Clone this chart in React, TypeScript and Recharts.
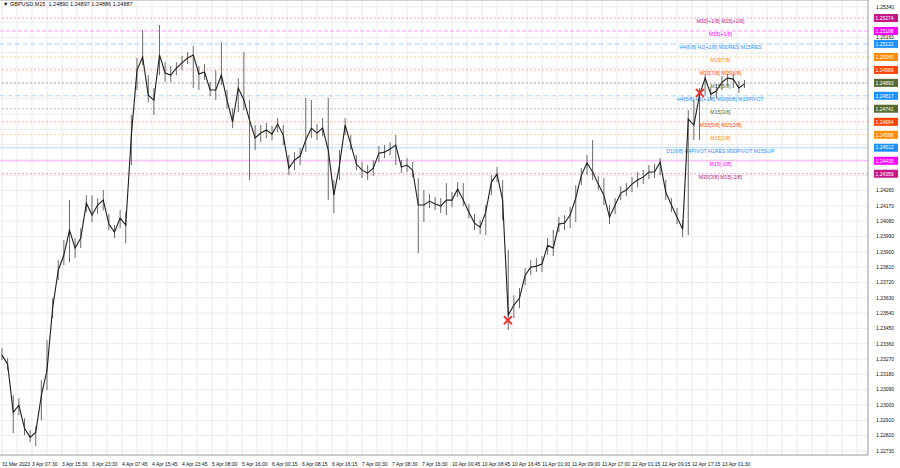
import { ComposedChart, Line, ErrorBar, XAxis, YAxis, CartesianGrid, ReferenceLine, ReferenceDot } from 'recharts';

// GBPUSD M15, one sample every 1.5 hours (close + high/low of the bucket)
const STEP = 1.5;

const closes = [
  1.23293, 1.23240, 1.22957, 1.22999, 1.22863, 1.22810, 1.22840, 1.23057, 1.23204, 1.23569,
  1.23792, 1.23881, 1.24028, 1.23922, 1.23981, 1.24186, 1.24116, 1.24175, 1.24204, 1.24063,
  1.24016, 1.24098, 1.24057, 1.24586, 1.24968, 1.25045, 1.24821, 1.24792, 1.25057, 1.24951,
  1.24939, 1.24980, 1.25010, 1.25039, 1.25057, 1.24945, 1.24957, 1.24851, 1.24851, 1.24939,
  1.24792, 1.24663, 1.24863, 1.24792, 1.24674, 1.24569, 1.24598, 1.24616, 1.24592, 1.24651,
  1.24586, 1.24392, 1.24439, 1.24463, 1.24557, 1.24627, 1.24598, 1.24627, 1.24498, 1.24233,
  1.24410, 1.24645, 1.24533, 1.24416, 1.24380, 1.24363, 1.24392, 1.24480, 1.24486, 1.24504,
  1.24527, 1.24398, 1.24410, 1.24380, 1.24175, 1.24175, 1.24198, 1.24181, 1.24169, 1.24204,
  1.24204, 1.24269, 1.24204, 1.24133, 1.24069, 1.24045, 1.24133, 1.24310, 1.24357, 1.24204,
  1.23528, 1.23587, 1.23628, 1.23763, 1.23810, 1.23816, 1.23828, 1.23939, 1.23922, 1.24063,
  1.24069, 1.24116, 1.24216, 1.24351, 1.24422, 1.24369, 1.24298, 1.24233, 1.24104, 1.24175,
  1.24245, 1.24263, 1.24298, 1.24322, 1.24339, 1.24369, 1.24369, 1.24427, 1.24251, 1.24175,
  1.24104, 1.24033, 1.24680, 1.24645, 1.24821, 1.24921, 1.24827, 1.24845, 1.24898, 1.24921,
  1.24915, 1.24863, 1.24887,
];

const highs = [
  1.23334, 1.23275, 1.23057, 1.23040, 1.22922, 1.22852, 1.22875, 1.23146, 1.23381, 1.23628,
  1.23851, 1.23969, 1.24204, 1.23981, 1.24039, 1.24233, 1.24233, 1.24216, 1.24263, 1.24122,
  1.24057, 1.24145, 1.24133, 1.24704, 1.25039, 1.25204, 1.24939, 1.24863, 1.25233, 1.25015,
  1.24992, 1.25015, 1.25051, 1.25074, 1.25110, 1.24992, 1.25004, 1.24898, 1.24968, 1.25133,
  1.24851, 1.24745, 1.24921, 1.25074, 1.24792, 1.24645, 1.24645, 1.24657, 1.24639, 1.24686,
  1.24645, 1.24469, 1.24486, 1.24510, 1.24804, 1.24792, 1.24651, 1.24686, 1.24804, 1.24322,
  1.24498, 1.24686, 1.24586, 1.24469, 1.24427, 1.24410, 1.24439, 1.24522, 1.24527, 1.24545,
  1.24586, 1.24439, 1.24451, 1.24427, 1.24333, 1.24263, 1.24239, 1.24222, 1.24216, 1.24304,
  1.24251, 1.24310, 1.24304, 1.24181, 1.24122, 1.24086, 1.24175, 1.24351, 1.24398, 1.24322,
  1.23910, 1.23645, 1.23687, 1.23804, 1.23851, 1.23863, 1.23875, 1.23981, 1.24028, 1.24104,
  1.24116, 1.24163, 1.24292, 1.24392, 1.24469, 1.24557, 1.24345, 1.24333, 1.24175, 1.24216,
  1.24286, 1.24304, 1.24339, 1.24369, 1.24380, 1.24410, 1.24416, 1.24451, 1.24322, 1.24216,
  1.24157, 1.24086, 1.24733, 1.24792, 1.24863, 1.24939, 1.24868, 1.24886, 1.24933, 1.24945,
  1.24945, 1.24904, 1.24910,
];

const lows = [
  1.23263, 1.23204, 1.22834, 1.22940, 1.22822, 1.22781, 1.22758, 1.22910, 1.23087, 1.23510,
  1.23734, 1.23822, 1.23839, 1.23863, 1.23922, 1.24133, 1.24075, 1.24122, 1.24145, 1.24028,
  1.23981, 1.24039, 1.23951, 1.24410, 1.24851, 1.24998, 1.24780, 1.24704, 1.24939, 1.24898,
  1.24898, 1.24939, 1.24968, 1.25004, 1.24863, 1.24851, 1.24910, 1.24816, 1.24792, 1.24880,
  1.24745, 1.24627, 1.24721, 1.24733, 1.24322, 1.24498, 1.24545, 1.24569, 1.24557, 1.24604,
  1.24527, 1.24351, 1.24380, 1.24410, 1.24486, 1.24569, 1.24557, 1.24580, 1.24204, 1.24128,
  1.24322, 1.24586, 1.24498, 1.24380, 1.24333, 1.24322, 1.24345, 1.24427, 1.24451, 1.24469,
  1.24410, 1.24363, 1.24369, 1.24339, 1.23892, 1.24075, 1.24157, 1.24145, 1.24128, 1.24116,
  1.24163, 1.24222, 1.24169, 1.24098, 1.24028, 1.24004, 1.23998, 1.24233, 1.24310, 1.24086,
  1.23440, 1.23510, 1.23569, 1.23704, 1.23763, 1.23781, 1.23781, 1.23881, 1.23875, 1.24016,
  1.24028, 1.24039, 1.24075, 1.24292, 1.24351, 1.24322, 1.24263, 1.24175, 1.24063, 1.24122,
  1.24204, 1.24228, 1.24251, 1.24280, 1.24298, 1.24328, 1.24333, 1.24351, 1.24204, 1.24133,
  1.24063, 1.23986, 1.23998, 1.24557, 1.24557, 1.24821, 1.24792, 1.24804, 1.24851, 1.24874,
  1.24863, 1.24833, 1.24863,
];

// Murrey math levels, bottom to top
const levels = [1.24359, 1.24435, 1.24512, 1.24588, 1.24664, 1.24741, 1.24817, 1.24893, 1.24969, 1.25045, 1.25122, 1.25198, 1.25274];
const levelNames = [
  'M30[3/8] M15[-2/8]',
  'M15[-1/8]',
  'D1[6/8] H4PIVOT H1RES M30PIVOT M15SUP',
  'M15[1/8]',
  'M30[5/8] M15[2/8]',
  'M15[3/8]',
  'H4[5/8] H1[+1/8] M30[6/8] M15PIVOT',
  'M15[5/8]',
  'M30[7/8] M15[6/8]',
  'M15[7/8]',
  'H4[6/8] H1[+2/8] M30RES M15RES',
  'M15[+1/8]',
  'M30[+1/8] M15[+2/8]',
];
const levelColors = ['#c71585', '#ff00ff', '#1e90ff', '#ff8c00', '#ff4500', '#556b2f', '#1e90ff', '#556b2f', '#ff4500', '#ff8c00', '#1e90ff', '#ff00ff', '#c71585'];
const levelDash = ['2 2', '', '', '2 2', '2 2', '2 2', '5 3', '2 2', '2 2', '2 2', '5 3', '4 2', '2 2'];

// signal markers (hour, price)
const markHours = [134.9, 186.1];
const markPrices = [1.23498, 1.24833];

const xTicks = [0, 8, 16, 24, 32, 40, 48, 56, 64, 72, 80, 88, 96, 104, 112, 120, 128, 136, 144, 152, 160, 168, 176, 184, 192];
const xLabels = [
  '31 Mar 2023', '3 Apr 07:30', '3 Apr 15:30', '3 Apr 23:30', '4 Apr 07:45', '4 Apr 15:45', '4 Apr 23:45',
  '5 Apr 08:00', '5 Apr 16:00', '6 Apr 00:15', '6 Apr 08:15', '6 Apr 16:15', '7 Apr 00:30', '7 Apr 08:30',
  '7 Apr 16:30', '10 Apr 00:45', '10 Apr 08:45', '10 Apr 16:45', '11 Apr 01:00', '11 Apr 09:00', '11 Apr 17:00',
  '12 Apr 01:15', '12 Apr 09:15', '12 Apr 17:15', '13 Apr 01:30',
];
const gridHours = [0, 4, 8, 12, 16, 20, 24, 28, 32, 36, 40, 44, 48, 52, 56, 60, 64, 68, 72, 76, 80, 84, 88, 92, 96, 100, 104, 108, 112, 116, 120, 124, 128, 132, 136, 140, 144, 148, 152, 156, 160, 164, 168, 172, 176, 180, 184, 188, 192, 196, 200, 204, 208, 212, 216, 220, 224, 228];
const yTicks = [
  1.2273, 1.2282, 1.2291, 1.23, 1.2309, 1.2318, 1.2327, 1.2336, 1.2345, 1.2354,
  1.2363, 1.2372, 1.2381, 1.239, 1.2399, 1.2408, 1.2417, 1.2426, 1.2435, 1.2444,
  1.2453, 1.2462, 1.2471, 1.248, 1.2489, 1.2498, 1.2507, 1.2516, 1.2525, 1.2534,
];

const X_DOMAIN: [number, number] = [-0.533, 230.93];
const Y_DOMAIN: [number, number] = [1.22706, 1.2538];
const FONT = '"Liberation Sans", Arial, sans-serif';

const data = closes.map((c, i) => ({
  h: i * STEP,
  close: c,
  err: [+(c - lows[i]).toFixed(5), +(highs[i] - c).toFixed(5)],
}));

// tick labels hidden behind a level badge are not drawn (as in the terminal)
const YTick = ({ x, y, payload }: any) => {
  const v = payload.value;
  if (levels.some((lv) => Math.abs(lv - v) < 0.00032)) return null;
  return (
    <text x={x + 6} y={y + 1.8} fontSize={5} fontFamily={FONT} fill="#111">
      {v.toFixed(5)}
    </text>
  );
};

const XTick = ({ x, y, payload }: any) => {
  const idx = xTicks.indexOf(payload.value);
  return (
    <text x={x} y={y + 9} fontSize={5} fontFamily={FONT} fill="#111">
      {xLabels[idx]}
    </text>
  );
};

const LevelLabel = ({ viewBox, idx }: any) => {
  if (!viewBox) return null;
  const { x, y, width } = viewBox;
  const color = levelColors[idx];
  return (
    <g>
      <text x={x + width * 0.83} y={y + 5} textAnchor="middle" fontSize={5.2} fontFamily={FONT} fill={color}>
        {levelNames[idx]}
      </text>
      <rect x={x + width + 6} y={y - 4} width={24} height={8} fill={color} />
      <text x={x + width + 7.5} y={y + 1.8} fontSize={5} fontFamily={FONT} fill="#fff">
        {levels[idx].toFixed(5)}
      </text>
    </g>
  );
};

const Cross = ({ cx, cy }: any) => (
  <g stroke="#e53935" strokeWidth={2}>
    <line x1={cx - 4} y1={cy - 4} x2={cx + 4} y2={cy + 4} />
    <line x1={cx - 4} y1={cy + 4} x2={cx + 4} y2={cy - 4} />
  </g>
);

export default function App() {
  return (
    <div style={{ position: 'absolute', left: 0, top: 0, width: 900, height: 468, background: '#fff' }}>
      <div style={{ position: 'absolute', left: 3, top: 1, fontSize: 5.5, fontFamily: FONT, color: '#111', zIndex: 2, whiteSpace: 'pre' }}>
        {'▼ GBPUSD,M15  1.24890 1.24897 1.24886 1.24887'}
      </div>
      <ComposedChart width={900} height={468} data={data} margin={{ top: 0, right: 0, bottom: 0, left: 0 }}>
        <CartesianGrid stroke="#ebebeb" verticalValues={gridHours} horizontalValues={yTicks} />
        <XAxis
          dataKey="h"
          type="number"
          domain={X_DOMAIN}
          allowDataOverflow
          ticks={xTicks}
          tick={<XTick />}
          tickLine={false}
          tickSize={0}
          height={13}
          axisLine={{ stroke: '#999' }}
          interval={0}
        />
        <YAxis
          orientation="right"
          type="number"
          domain={Y_DOMAIN}
          allowDataOverflow
          ticks={yTicks}
          tick={<YTick />}
          tickLine={false}
          tickSize={0}
          width={32}
          axisLine={{ stroke: '#999' }}
          interval={0}
        />
        <ReferenceLine y={Y_DOMAIN[1]} stroke="#aaa" />
        {levels.map((lv, i) => (
          <ReferenceLine
            key={lv}
            y={lv}
            stroke={levelColors[i]}
            strokeOpacity={levelDash[i] ? 0.4 : 0.3}
            strokeDasharray={levelDash[i]}
            label={<LevelLabel idx={i} />}
          />
        ))}
        <Line dataKey="close" stroke="#1e1e1e" strokeWidth={1.1} dot={false} activeDot={false} isAnimationActive={false}>
          <ErrorBar dataKey="err" width={0} stroke="#6a6a6a" strokeWidth={1} direction="y" isAnimationActive={false} />
        </Line>
        {markHours.map((h, i) => (
          <ReferenceDot key={h} x={h} y={markPrices[i]} r={4} shape={<Cross />} />
        ))}
      </ComposedChart>
    </div>
  );
}
